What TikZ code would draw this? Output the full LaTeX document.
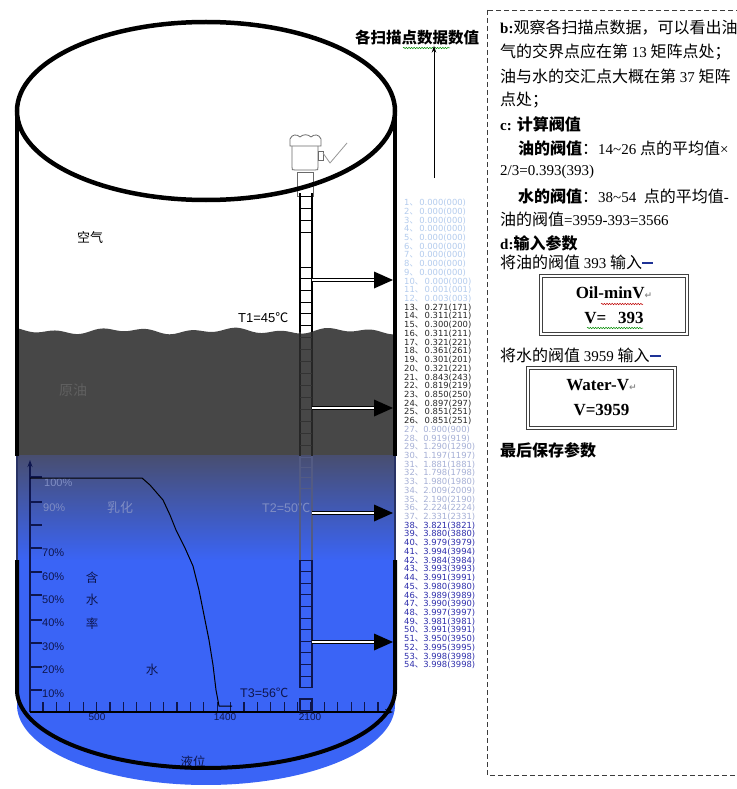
\documentclass[tikz,border=0pt]{standalone}
\usepackage{fontspec}
\setmainfont{Liberation Serif}
\newfontfamily\cjk{Noto Sans CJK SC}
\newfontfamily\lsans{Liberation Sans}
\newfontfamily\dvs{DejaVu Sans}
\usetikzlibrary{arrows.meta,decorations.pathmorphing}

\definecolor{oilgray}{RGB}{71,71,71}
\definecolor{waterblue}{RGB}{58,100,246}
\definecolor{watertop}{RGB}{72,78,112}
\definecolor{wallfade}{RGB}{40,50,100}
\definecolor{navy}{RGB}{14,22,78}
\definecolor{fadeblue}{RGB}{128,142,196}
\definecolor{oiltext}{RGB}{96,96,96}
\definecolor{rowpale}{RGB}{180,204,238}
\definecolor{rowgray}{RGB}{40,40,40}
\definecolor{rowfade}{RGB}{166,176,214}
\definecolor{rowblue}{RGB}{46,46,172}
\definecolor{sensorgray}{RGB}{105,105,105}
\definecolor{marker}{RGB}{30,50,150}
\definecolor{panelline}{RGB}{60,60,60}

% CJK pieces in the side panel
\newcommand\pc[1]{{\cjk\fontsize{16}{18}\selectfont #1}}
\newcommand\cj[1]{{\cjk #1}}
\newcommand\bluebar{\textcolor{marker}{\rule[0.28em]{11pt}{1.8pt}}}
\newcommand\retmark{{\dvs\fontsize{9}{9}\selectfont\textcolor{black!45}{↵}}}

\begin{document}
\begin{tikzpicture}[x=1pt,y=-1pt,
  wall/.style={line width=4pt,line join=round},
  rail/.style={line width=1.1pt},
  rung/.style={line width=1pt},
  shaft/.style={line width=1.1pt,double=white,double distance=2.2pt},
  axisline/.style={line width=1.4pt,navy},
  tickmark/.style={line width=1.2pt,navy},
  pct/.style={anchor=west,inner sep=0pt,font=\lsans\fontsize{11}{11}\selectfont,text=navy},
  pctfade/.style={pct,text=fadeblue},
  xnum/.style={inner sep=0pt,font=\lsans\fontsize{10}{10}\selectfont,text=navy},
  row/.style={anchor=west,inner sep=0pt,font=\dvs\fontsize{8.4}{8.4}\selectfont},
  pline/.style={anchor=west,inner sep=0pt,font=\fontsize{15}{18}\selectfont},
  valbox/.style={draw=black!75,line width=1.1pt,double=white,double distance=1.6pt,
    align=center,inner sep=0pt,font=\bfseries\fontsize{17}{25}\selectfont},
  sensor/.style={draw=sensorgray,line width=0.8pt,fill=white},
  squiggle/.style={decorate,decoration={snake,amplitude=0.7pt,segment length=2.6pt},line width=0.5pt}
]
\useasboundingbox (0,0) rectangle (736,789);
\fill[white] (0,0) rectangle (736,789);

% ---------------- tank contents ----------------
% crude oil layer with a rippled surface
\fill[oilgray] plot[domain=17:395,samples=140] (\x,{331-1.8*sin(8*\x)-1.6*sin(3.3*\x+50)})
  -- (395,456) -- (17,456) -- cycle;
% water layer: dark near the interface, bright blue below
\shade[top color=watertop,bottom color=waterblue] (17,455) rectangle (395,561);
\fill[waterblue] (17,560) -- (17,705)
  -- plot[domain=180:360,samples=90] ({206+189*cos(\x)},{705-80*sin(\x)})
  -- (395,560) -- cycle;

% layer labels
\node[font=\cjk\fontsize{13}{13}\selectfont] (air) at (90,238) {空气};
\node[font=\cjk\fontsize{14}{14}\selectfont,text=oiltext] (crude) at (73,390) {原油};
\node[font=\cjk\fontsize{13}{13}\selectfont,text=fadeblue] (emul) at (120,508) {乳化};
\node[font=\cjk\fontsize{12.5}{12.5}\selectfont,text=navy] (han) at (92,578) {含};
\node[font=\cjk\fontsize{12.5}{12.5}\selectfont,text=navy] (shui) at (92,600) {水};
\node[font=\cjk\fontsize{12.5}{12.5}\selectfont,text=navy] (lv) at (92,624) {率};
\node[font=\cjk\fontsize{12.5}{12.5}\selectfont,text=navy] (water) at (152,670) {水};
\node[font=\cjk\fontsize{12.5}{12.5}\selectfont,text=navy] (level) at (193,762) {液位};

% temperatures
\node[anchor=west,inner sep=0pt,font=\lsans\fontsize{13}{13}\selectfont] (T1) at (238,318) {T1=45\cj{℃}};
\node[anchor=west,inner sep=0pt,font=\lsans\fontsize{12.5}{12.5}\selectfont,text=fadeblue] (T2) at (262,508) {T2=50\cj{℃}};
\node[anchor=west,inner sep=0pt,font=\lsans\fontsize{12.5}{12.5}\selectfont,text=navy] (T3) at (240,693) {T3=56\cj{℃}};

% ---------------- water-cut chart ----------------
\coordinate (O) at (30,712);
\coordinate (ytop) at (30,460);
\coordinate (xend) at (393,712);
\foreach \k in {0,...,25} \draw[tickmark] ({43+13.4*\k},712) -- ({43+13.4*\k},702);
\foreach \yy in {477,502,525,548,572,595,620,643,667,690} \draw[tickmark] (30,\yy) -- (42,\yy);
\draw[axisline,-{Stealth[length=7pt,width=5pt]}] (O) -- (ytop);
\draw[axisline,black,-{Stealth[length=8pt,width=6pt]}] (O) -- (xend);

\node[pctfade] (p100) at (44,483) {100\%};
\node[pctfade] (p90) at (43,508) {90\%};
\node[pct] (p70) at (42,553) {70\%};
\node[pct] (p60) at (42,577) {60\%};
\node[pct] (p50) at (42,600) {50\%};
\node[pct] (p40) at (42,623) {40\%};
\node[pct] (p30) at (42,647) {30\%};
\node[pct] (p20) at (42,670) {20\%};
\node[pct] (p10) at (42,694) {10\%};
\node[xnum] (x500) at (97,717) {500};
\node[xnum] (x1400) at (225,717) {1400};
\node[xnum] (x2100) at (310,717) {2100};

% water-cut curve
\draw[line width=1pt,line join=round] (30,478) -- (142,478) -- (150,485) -- (163,500) -- (170,515)
  -- (176,530) -- (185,548) -- (193,566) -- (199,590) -- (204,615) -- (209,640) -- (213,665)
  -- (216,690) -- (219,706) -- (232,706);

% ---------------- probe ----------------
% sensor head
\draw[sensor] (297,172) rectangle (313,196);
\draw[sensor] (292,145) -- (292,167) .. controls (292,170) .. (295,170) -- (315,170)
  .. controls (318,170) .. (318,167) -- (318,145) -- cycle;
\draw[sensor] (318,151) rectangle (323,160);
\draw[sensor] (290,146) -- (290,139) .. controls (292,134) and (297,134) .. (300,137)
  .. controls (303,134) and (308,134) .. (311,137) .. controls (314,134) and (319,134) .. (321,139)
  -- (321,146) -- cycle;
\draw[sensorgray!70,line width=0.8pt,line join=round] (323,153) -- (330,163) -- (347,143);

% ladder in the air
\draw[rail] (300,193) -- (300,332) (312,193) -- (312,332);
\foreach \yy in {196,208,220,232,267,278,290,302,313,325} \draw[rung] (300,\yy) -- (312,\yy);
% ladder in the oil
\draw[rail,black!85] (300,332) -- (300,456) (312,332) -- (312,456);
\foreach \yy in {337,349,361,373,385,397,409,421,433,445} \draw[rung,black!80] (300,\yy) -- (312,\yy);
% ladder in the emulsion
\draw[rail,wallfade!80] (300,456) -- (300,560) (312,456) -- (312,560);
\foreach \yy in {457,467,477,488} \draw[rung,wallfade!80] (300,\yy) -- (312,\yy);
% ladder in the water
\draw[rail,navy] (300,560) -- (300,688) (312,560) -- (312,688);
\foreach \k in {0,...,11} \draw[rung,navy] (300,{560+11.6*\k}) -- (312,{560+11.6*\k});
\draw[rail,navy] (300,699) rectangle (312,711);

% ---------------- tank outline ----------------
\draw[wall] (17,111) -- (17,456) (395,111) -- (395,456);
\draw[wall,line width=2.5pt,wallfade] (17,456) -- (17,560) (395,456) -- (395,560);
\draw[wall] (17,560) -- (17,690)
  -- plot[domain=180:360,samples=90] ({206+189*cos(\x)},{690-78*sin(\x)})
  -- (395,560);
\draw[line width=4.5pt] (206,111) ellipse [x radius=189,y radius=89];

% level arrows from the probe to the wall
\foreach \i/\yy in {1/280,2/408,3/513,4/642}{
  \coordinate (pa\i) at (312,\yy);
  \coordinate (pb\i) at (376,\yy);
  \coordinate (pw\i) at (393,\yy);
  \draw[shaft] (pa\i) -- (pb\i);
  \fill (pw\i) -- ++(-19,-8.5) -- ++(0,17) -- cycle;
}

% ---------------- scan-point readings ----------------
\foreach \n/\v in {1/0.000(000),2/0.000(000),3/0.000(000),4/0.000(000),5/0.000(000),
  6/0.000(000),7/0.000(000),8/0.000(000),9/0.000(000),10/0.000(000),11/0.001(001),12/0.003(003)}
  \node[row,text=rowpale] (r\n) at (404,{203+(\n-1)*8.72}) {\n\cj{、}\,\v};
\foreach \n/\v in {13/0.271(171),14/0.311(211),15/0.300(200),16/0.311(211),17/0.321(221),
  18/0.361(261),19/0.301(201),20/0.321(221),21/0.843(243),22/0.819(219),23/0.850(250),
  24/0.897(297),25/0.851(251),26/0.851(251)}
  \node[row,text=rowgray] (r\n) at (404,{203+(\n-1)*8.72}) {\n\cj{、}\,\v};
\foreach \n/\v in {27/0.900(900),28/0.919(919),29/1.290(1290),30/1.197(1197),31/1.881(1881),
  32/1.798(1798),33/1.980(1980),34/2.009(2009),35/2.190(2190),36/2.224(2224),37/2.331(2331)}
  \node[row,text=rowfade] (r\n) at (404,{203+(\n-1)*8.72}) {\n\cj{、}\v};
\foreach \n/\v in {38/3.821(3821),39/3.880(3880),40/3.979(3979),41/3.994(3994),42/3.984(3984),
  43/3.993(3993),44/3.991(3991),45/3.980(3980),46/3.989(3989),47/3.990(3990),48/3.997(3997),
  49/3.981(3981),50/3.991(3991),51/3.950(3950),52/3.995(3995),53/3.998(3998),54/3.998(3998)}
  \node[row,text=rowblue] (r\n) at (404,{203+(\n-1)*8.72}) {\n\cj{、}\v};

\node[inner sep=0pt,font=\cjk\bfseries\fontsize{15.5}{15.5}\selectfont] (title) at (417,38) {各扫描点数据数值};
\draw[squiggle,green!55!black] (403,48) -- (450,48);
\coordinate (colTop) at (434,178);
\draw[line width=0.8pt,-{Stealth[length=7pt,width=4.5pt]}] (colTop) -- (colTop |- title.south);

% ---------------- side panel ----------------
\draw[panelline,line width=0.9pt,dash pattern=on 5pt off 3pt] (487,10) rectangle (745,775);

\node[pline] (b1) at (500,28) {\textbf{b:}\pc{观察各扫描点数据，可以看出油}};
\node[pline] (b2) at (500,52) {\pc{气的交界点应在第} 13 \pc{矩阵点处；}};
\node[pline] (b3) at (500,76) {\pc{油与水的交汇点大概在第} 37 \pc{矩阵}};
\node[pline] (b4) at (500,100) {\pc{点处；}};
\node[pline] (c1) at (500,124) {\textbf{c: \pc{计算阀值}}};
\node[pline] (c2) at (518,148) {\pc{\bfseries 油的阀值}\pc{：}14\textasciitilde26 \pc{点的平均值}×};
\node[pline] (c3) at (500,172) {2/3=0.393(393)};
\node[pline] (c4) at (518,196) {\pc{\bfseries 水的阀值}\pc{：}38\textasciitilde54\ \ \pc{点的平均值}-};
\node[pline] (c5) at (500,219) {\pc{油的阀值}=3959-393=3566};
\node[pline] (d1) at (500,243) {\textbf{d:\pc{输入参数}}};
\node[pline] (d2) at (500,262) {\pc{将油的阀值} 393 \pc{输入}\bluebar};

\node[valbox,minimum width=146pt,minimum height=58pt] (oilbox) at (614,305)
  {Oil-minV\retmark\\V=\hspace{12pt}393};
\draw[squiggle,red!75!black] (601,304) -- (643,304);
\draw[squiggle,green!55!black] (587,328) -- (643,328);

\node[pline] (d3) at (500,355) {\pc{将水的阀值} 3959 \pc{输入}\bluebar};
\node[valbox,minimum width=147pt,minimum height=60pt] (waterbox) at (601.5,398)
  {Water-V\retmark\\V=3959};

\node[pline] (e1) at (500,450) {\pc{\bfseries 最后保存参数}};
\end{tikzpicture}
\end{document}
